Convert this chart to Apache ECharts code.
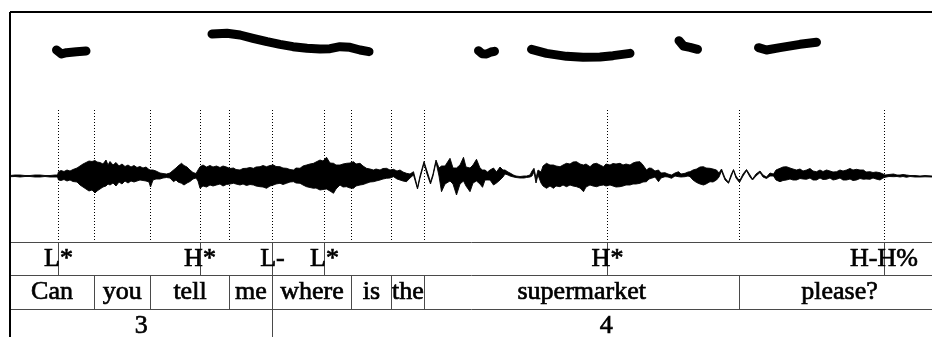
<!DOCTYPE html>
<html>
<head>
<meta charset="utf-8">
<script src="https://cdn.jsdelivr.net/npm/echarts/dist/echarts.min.js"></script>
<style>
  html, body { margin: 0; padding: 0; background: #fff; }
  #c { width: 932px; height: 337px; }
</style>
</head>
<body>
<div id="c"></div>
<script>
// Time in ms. The utterance ends at TOTAL; the window shows up to VIEW_END.
const TOTAL = 1860;
const VIEW_END = 1844;

// F0 track (ms, Hz); null splits voiced stretches
const pitchTime = [93, 103, 113, 133, 152, null,
  404, 434, 460, 486, 514, 540, 566, 594, 620, 640, 660, 680, 700, 718, null,
  937, 944, 953, 962, 969, null,
  1043, 1073, 1113, 1146, 1180, 1206, 1240, null,
  1338, 1347, 1360, 1375, null,
  1497, 1513, 1540, 1580, 1613];
const pitchHz = [386, 374, 378, 381, 383, null,
  434, 436, 431, 421, 411, 403, 396, 391, 389, 390, 396, 394, 386, 381, null,
  384, 375, 374, 380, 382, null,
  388, 376, 367, 364, 365, 369, 376, null,
  414, 398, 394, 388, null,
  393, 386, 393, 403, 409];

// Waveform envelope: time (ms), upper and lower amplitude
const waveTime = [0, 10, 20, 30, 40, 50, 60, 70, 80, 90, 95, 97, 102, 108, 114, 120, 126, 134, 140, 146, 152, 158, 164, 170,
  174, 180, 186, 192, 196, 200, 206, 212, 218, 224, 230, 236, 242, 248, 254, 260, 266, 272, 278, 281, 286, 292, 300, 306,
  313, 320, 327, 332, 336, 343, 348, 354, 360, 366, 372, 376, 380, 386, 393, 400, 406, 413, 420, 426, 433, 440, 447, 452,
  460, 466, 473, 480, 487, 492, 500, 506, 513, 520, 527, 532, 540, 546, 553, 560, 567, 572, 580, 586, 593, 600, 607, 612,
  620, 626, 633, 640, 647, 652, 660, 666, 673, 680, 687, 692, 700, 706, 713, 720, 727, 732, 740, 746, 753, 760, 767, 774,
  780, 786, 793, 800, 807, 815, 820, 828, 834, 841, 846, 852, 858, 863, 870, 880, 886, 893, 900, 907, 912, 920, 926, 933,
  940, 945, 950, 955, 960, 967, 973, 980, 986, 990, 996, 1000, 1007, 1012, 1020, 1028, 1033, 1040, 1044, 1048, 1052, 1056, 1062, 1066,
  1073, 1080, 1087, 1092, 1100, 1106, 1113, 1120, 1126, 1133, 1140, 1147, 1152, 1160, 1166, 1173, 1180, 1187, 1192, 1200, 1206, 1212,
  1220, 1226, 1232, 1240, 1246, 1252, 1260, 1266, 1273, 1278, 1283, 1290, 1297, 1302, 1310, 1316, 1323, 1330, 1337, 1342, 1350, 1356,
  1360, 1366, 1373, 1380, 1387, 1392, 1400, 1406, 1413, 1418, 1423, 1430, 1437, 1442, 1447, 1452, 1459, 1466, 1473, 1480, 1485, 1492,
  1500, 1506, 1513, 1520, 1527, 1532, 1540, 1546, 1553, 1560, 1566, 1573, 1580, 1586, 1593, 1600, 1606, 1613, 1620, 1626, 1633, 1640,
  1646, 1653, 1660, 1666, 1673, 1680, 1686, 1693, 1700, 1707, 1712, 1720, 1726, 1732, 1740, 1746, 1750, 1758, 1767, 1774, 1780, 1786,
  1793, 1800, 1810, 1820, 1830, 1844, 1860];
const waveHi = [0.5, 1, 1, 0.5, 0.5, 1, 1, 0.5, 0.5, 1, 1, 4.3, 5.5, 4.5, 6, 5, 6.5, 8, 10, 12, 13.5, 15, 14.5, 15.5,
  14, 13.5, 12, 16, 11, 14.5, 11, 13.5, 10, 12, 9.5, 11, 9, 10.5, 8.5, 9.5, 8, 9, 6.5, 6, 6, 5, 3, 2.5,
  2, 3, 6, 8, 10, 12.7, 10.5, 9, 6, 3.5, 2.5, 6, 9.3, 11, 9, 10.5, 9, 10, 8.5, 10, 9, 7.5, 8, 6.5,
  6, 7.5, 7.7, 8.5, 7.7, 9, 9.3, 10.5, 9.3, 10.5, 11, 9.5, 9.3, 8, 7.7, 6.5, 6, 8, 7.7, 10, 11, 12, 12.7, 14,
  16, 15, 18.7, 13, 12.7, 11, 11, 12, 12.7, 13, 14.3, 12, 12.7, 10, 7.7, 7, 6, 7, 6, 7.5, 7.7, 6, 6.7, 5,
  6, 4, 2.7, 2, 4.3, -11.5, 0, 14.5, 5, -6, 2, 16, 8, 10, 10, 17.7, 8, 8, 11, 18.7, 9, 8, 11, 16.7,
  8, 6, 6, 4, 6, 8, 4, 9, 6, 6, 4, 3, 1, 0, -0.5, 0, 0, 1, 5, 7.7, -2, 6, 4, 10,
  12.7, 11, 11, 10, 9.3, 11, 12.7, 12, 14, 14.3, 12, 11, 12, 9.3, 12, 12.7, 11, 9.3, 12, 11, 12.5, 12,
  12.7, 11, 12, 11, 13, 14, 14.3, 11, 6, 8, 7.7, 5, 6, 3, 3.3, 2, 1, 3, 4.3, 2, 2.7, 4,
  4.3, 6, 7, 9, 9.3, 8, 7.7, 7, 6, 3, 7, -2, -6.3, 1, 6.5, 0, -5, 2, 6.5, 1, -3, 2,
  5, 1, -1, 3, 2, 6, 7.7, 9, 9.3, 8, 7, 6, 7, 5, 6, 7.5, 5, 4.3, 6, 4.5, 6, 5,
  4, 4.3, 6, 5, 6, 7.5, 6, 6.7, 6, 6, 4, 4.3, 3.5, 4, 3.3, 2, 1, 1.5, 2, 1, 1, 1.5,
  1, 0.5, 0.5, 0, 0.5, 0, 0];
const waveLo = [-0.7, -0.5, -1, -0.5, -0.5, -1, -1, -0.5, -1, -1, -1, -4, -4.5, -3.5, -5, -4, -5.5, -6, -9, -11, -13, -15, -14, -17,
  -15, -13, -11, -10, -8, -9, -7, -10, -6, -8, -5, -7, -5, -6, -5, -4, -4.5, -5, -6, -11, -4, -3, -3, -2,
  -1.5, -2, -5.7, -4, -6, -7.3, -9, -7, -5.5, -3, -2, -5, -12.3, -10, -11, -9, -10, -9, -8, -10, -8.5, -8, -7.3, -8,
  -9, -8, -9.5, -8.5, -9, -10, -10.7, -11, -12.3, -10, -9, -8, -7.3, -8.5, -7.3, -6, -5.7, -7, -7.3, -9, -10.7, -11.5, -12.3, -12,
  -14, -13.5, -13, -15, -17.3, -13, -9, -11, -10.7, -12, -12.3, -10, -9, -8.5, -7.3, -6, -5.7, -5, -4, -3, -2.3, -2, -0.7, -3,
  -4, -5, -5.7, -2, 1, -13, -2, 12.5, 2, -8, 0, 14, 0, -15.7, -8, -5, -8, -19, -8, -5, -10, -15.7, -7, -5,
  -8, -11.3, -4, -4, -4, -9, -7, -4, -1, 2, 1, 0, -1, -1.5, -2, -2, -1.5, -1, 0, 4, -7, 1, -7, -10,
  -12.3, -10, -12.3, -10, -10.7, -9, -10.7, -9, -10, -10.7, -12, -15.7, -11, -9, -10, -10.7, -9.5, -9, -10, -9, -10, -11,
  -10.7, -10, -9, -9, -8, -8, -7.3, -6, -5.7, -3, -2.3, -1, -5.7, -2, -0.7, -1, -2.3, 0, -0.7, -1, -0.7, 0,
  -0.7, -4, -6.5, -8, -9, -8, -5.7, -6, -4, -1, 5, -4, -7.3, -1, 5.5, -2, -6.5, 0, 5.3, -1, -4, 0,
  3.5, -1, -2.5, 0, 0, -4, -5.7, -4.5, -4, -3, -4, -4, -2.5, -3, -3.3, -2, -4, -4, -2, -3.5, -3.3, -2,
  -4, -3.3, -2, -4, -4, -3, -4.5, -4, -2.5, -3.3, -3, -3.3, -2, -3, -4, -2, -1.3, -0.5, -0.7, -0.5, -1, -0.5,
  -1.3, -0.5, -1, -1, -0.8, -1, -1];

// ToBI tones (point tier)
const toneTimes = [97, 380, 525, 629, 1195, 1748];
const toneLabels = ['L*', 'H*', 'L-', 'L*', 'H*', 'H-H%'];

// Words (interval tier)
const wordBounds = [0, 168, 281, 439, 525, 683, 763, 829, 1458, TOTAL];
const wordLabels = ['Can', 'you', 'tell', 'me', 'where', 'is', 'the', 'supermarket', 'please?'];

// Break indices (interval tier)
const breakBounds = [0, 525, TOTAL];
const breakLabels = ['3', '4'];

// Dotted guides through the signal: tone points and interior word boundaries
const guideTimes = Array.from(new Set(toneTimes.concat(wordBounds.slice(1, -1)))).sort((a, b) => a - b);

const SERIF = '"Liberation Serif", "Times New Roman", serif';
const TIER_LINE = '#4a4a4a';
const TIER_ROWS = 2.835;   // three 33.3 px rows, the last one cut by the window
const snap = v => Math.round(v - 0.5) + 0.5;

const chart = echarts.init(document.getElementById('c'), null, { renderer: 'canvas' });

const timeAxis = gi => ({ type: 'value', gridIndex: gi, min: 0, max: VIEW_END, show: false });

function tierLine(api, t0, t1, y0, y1, color, width) {
  const a = api.coord([t0, y0]);
  const b = api.coord([t1, y1]);
  const vertical = t0 === t1;
  const w = width || 1;
  const s = w % 2 === 1 ? snap : (v => Math.round(v));
  return {
    type: 'line',
    shape: vertical
      ? { x1: s(a[0]), y1: a[1], x2: s(a[0]), y2: b[1] }
      : { x1: a[0], y1: s(a[1]), x2: b[0], y2: s(b[1]) },
    style: { stroke: color || TIER_LINE, lineWidth: w }
  };
}

function tierText(api, t, row, label) {
  const p = api.coord([t, row + 0.5]);
  return {
    type: 'text',
    x: p[0], y: p[1],
    style: { text: label, font: '26px ' + SERIF, fill: '#000', stroke: '#000', lineWidth: 0.7,
             align: 'center', verticalAlign: 'middle' }
  };
}

const option = {
  animation: false,
  grid: [
    { left: 10, right: 0, top: 12, height: 100 },       // pitch
    { left: 10, right: 0, top: 110, height: 132 },      // waveform
    { left: 10, right: 0, top: 242.5, height: 94.5 },   // tiers
    { left: 10, right: 0, top: 12, height: 325 }        // frame
  ],
  xAxis: [timeAxis(0), timeAxis(1), timeAxis(2), timeAxis(3)],
  yAxis: [
    { type: 'value', gridIndex: 0, min: 200, max: 500, show: false },
    { type: 'value', gridIndex: 1, min: -66, max: 66, show: false },
    { type: 'value', gridIndex: 2, min: 0, max: TIER_ROWS, inverse: true, show: false },
    { type: 'value', gridIndex: 3, min: 0, max: 1, inverse: true, show: false }
  ],
  series: [
    {
      // dotted guides
      type: 'custom', xAxisIndex: 1, yAxisIndex: 1,
      data: guideTimes.map(t => [t]),
      renderItem: (params, api) => {
        const t = api.value(0);
        const a = api.coord([t, 66]);
        const b = api.coord([t, -66]);
        const x = snap(a[0]);
        return { type: 'line', shape: { x1: x, y1: a[1], x2: x, y2: b[1] },
                 style: { stroke: '#000', lineWidth: 1, lineDash: [1, 2] } };
      }
    },
    {
      // waveform envelope
      type: 'custom', xAxisIndex: 1, yAxisIndex: 1,
      data: [[0]],
      renderItem: (params, api) => {
        const pts = [];
        for (let i = 0; i < waveTime.length; i++) pts.push(api.coord([waveTime[i], waveHi[i]]));
        for (let i = waveTime.length - 1; i >= 0; i--) pts.push(api.coord([waveTime[i], waveLo[i]]));
        return { type: 'polygon', shape: { points: pts },
                 style: { fill: '#000', stroke: '#000', lineWidth: 0.9 } };
      }
    },
    {
      // F0 track
      type: 'line', xAxisIndex: 0, yAxisIndex: 0,
      data: pitchTime.map((t, i) => (t === null ? '-' : [t, pitchHz[i]])),
      connectNulls: false, showSymbol: false, symbol: 'none', smooth: false,
      lineStyle: { color: '#000', width: 9, cap: 'round', join: 'round' }
    },
    {
      // tier separators
      type: 'custom', xAxisIndex: 2, yAxisIndex: 2,
      data: [[0], [1], [2]],
      renderItem: (params, api) => tierLine(api, 0, TOTAL, api.value(0), api.value(0))
    },
    {
      // tones
      type: 'custom', xAxisIndex: 2, yAxisIndex: 2,
      data: toneTimes.map((t, i) => [t, i]),
      renderItem: (params, api) => {
        const t = api.value(0);
        return { type: 'group', children: [
          tierLine(api, t, t, 0, 1),
          tierText(api, t, 0, toneLabels[api.value(1)])
        ] };
      }
    },
    {
      // words
      type: 'custom', xAxisIndex: 2, yAxisIndex: 2,
      data: wordLabels.map((w, i) => [wordBounds[i], wordBounds[i + 1], i]),
      renderItem: (params, api) => {
        const s = api.value(0), e = api.value(1), i = api.value(2);
        const kids = [tierText(api, (s + e) / 2, 1, wordLabels[i])];
        if (i > 0) kids.push(tierLine(api, s, s, 1, 2));
        return { type: 'group', children: kids };
      }
    },
    {
      // break indices
      type: 'custom', xAxisIndex: 2, yAxisIndex: 2,
      data: breakLabels.map((b, i) => [breakBounds[i], breakBounds[i + 1], i]),
      renderItem: (params, api) => {
        const s = api.value(0), e = api.value(1), i = api.value(2);
        const kids = [tierText(api, (s + e) / 2, 2, breakLabels[i])];
        if (i > 0) kids.push(tierLine(api, s, s, 2, TIER_ROWS));
        return { type: 'group', children: kids };
      }
    },
    {
      // outer frame: top and left edges
      type: 'custom', xAxisIndex: 3, yAxisIndex: 3,
      data: [[0]],
      renderItem: (params, api) => ({ type: 'group', children: [
        tierLine(api, 0, TOTAL, 0, 0, '#000', 2),
        tierLine(api, 0, 0, 0, 1, '#000', 2)
      ] })
    }
  ]
};

chart.setOption(option);
</script>
</body>
</html>
